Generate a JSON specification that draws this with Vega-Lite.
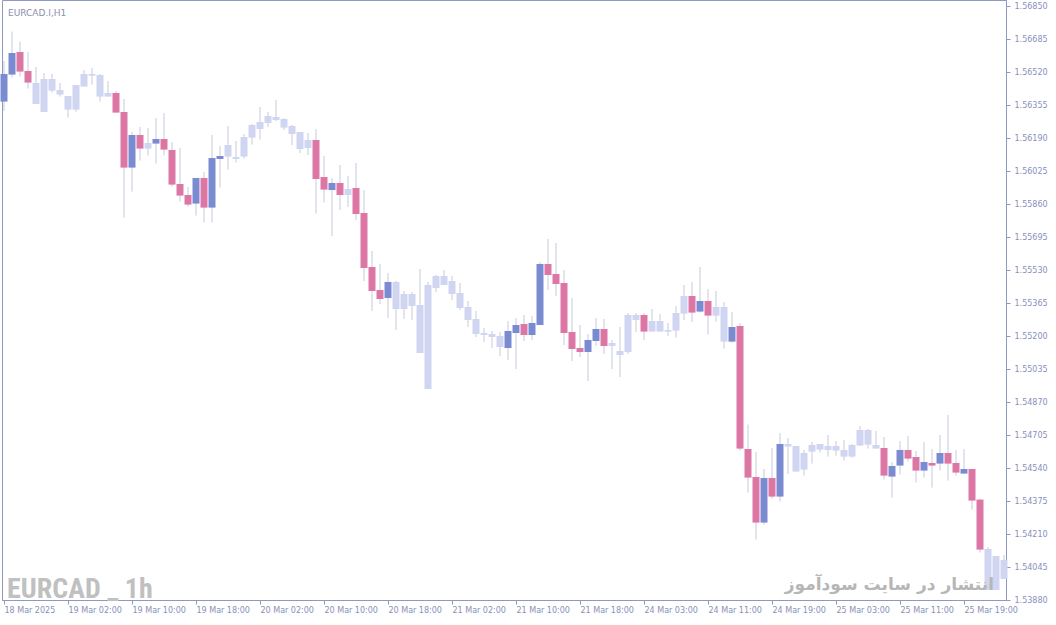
{
  "$schema": "https://vega.github.io/schema/vega-lite/v6.json",
  "width": 1004,
  "height": 600,
  "autosize": {"type": "none"},
  "padding": {"left": 2, "top": 0, "right": 50, "bottom": 25},
  "background": "white",
  "config": {
    "view": {"stroke": "#8e99c2", "strokeWidth": 1},
    "axis": {
      "grid": false,
      "labelFont": "DejaVu Sans",
      "labelFontSize": 8,
      "labelColor": "#8890bb",
      "domainColor": "#8e99c2",
      "tickColor": "#8e99c2",
      "labelOverlap": false,
      "labelFlush": false,
      "labelBound": false,
      "title": null
    },
    "axisY": {"labelOverlap": false}
  },
  "data": {"values": [
    {"t":"18 Mar 18:00","o":1.56372,"h":1.56575,"l":1.56325,"c":1.5651,"s":"up"},
    {"t":"18 Mar 19:00","o":1.56507,"h":1.56722,"l":1.56492,"c":1.56615,"s":"up"},
    {"t":"18 Mar 20:00","o":1.5662,"h":1.56672,"l":1.56497,"c":1.56522,"s":"down"},
    {"t":"18 Mar 21:00","o":1.56525,"h":1.5662,"l":1.56437,"c":1.56467,"s":"down"},
    {"t":"18 Mar 22:00","o":1.56465,"h":1.56545,"l":1.5636,"c":1.5636,"s":"flat"},
    {"t":"18 Mar 23:00","o":1.5632,"h":1.56515,"l":1.5632,"c":1.56485,"s":"flat"},
    {"t":"19 Mar 00:00","o":1.56485,"h":1.5651,"l":1.56417,"c":1.56427,"s":"flat"},
    {"t":"19 Mar 01:00","o":1.5643,"h":1.56465,"l":1.56397,"c":1.56407,"s":"flat"},
    {"t":"19 Mar 02:00","o":1.564,"h":1.564,"l":1.56292,"c":1.56332,"s":"flat"},
    {"t":"19 Mar 03:00","o":1.56332,"h":1.56455,"l":1.56322,"c":1.56455,"s":"flat"},
    {"t":"19 Mar 04:00","o":1.56447,"h":1.5653,"l":1.56447,"c":1.5651,"s":"flat"},
    {"t":"19 Mar 05:00","o":1.5651,"h":1.5654,"l":1.56457,"c":1.56502,"s":"flat"},
    {"t":"19 Mar 06:00","o":1.56505,"h":1.5651,"l":1.56372,"c":1.56397,"s":"flat"},
    {"t":"19 Mar 07:00","o":1.56397,"h":1.56475,"l":1.56397,"c":1.56415,"s":"flat"},
    {"t":"19 Mar 08:00","o":1.56415,"h":1.56425,"l":1.56317,"c":1.56317,"s":"down"},
    {"t":"19 Mar 09:00","o":1.5632,"h":1.56385,"l":1.55792,"c":1.56042,"s":"down"},
    {"t":"19 Mar 10:00","o":1.56042,"h":1.5622,"l":1.55922,"c":1.56205,"s":"up"},
    {"t":"19 Mar 11:00","o":1.56205,"h":1.56245,"l":1.56077,"c":1.56137,"s":"down"},
    {"t":"19 Mar 12:00","o":1.56137,"h":1.5624,"l":1.56102,"c":1.56165,"s":"flat"},
    {"t":"19 Mar 13:00","o":1.56162,"h":1.5629,"l":1.56062,"c":1.56185,"s":"up"},
    {"t":"19 Mar 14:00","o":1.56185,"h":1.56315,"l":1.56102,"c":1.56132,"s":"down"},
    {"t":"19 Mar 15:00","o":1.5613,"h":1.5617,"l":1.55947,"c":1.55957,"s":"down"},
    {"t":"19 Mar 16:00","o":1.5596,"h":1.5614,"l":1.55872,"c":1.55902,"s":"down"},
    {"t":"19 Mar 17:00","o":1.55905,"h":1.55945,"l":1.55847,"c":1.55857,"s":"down"},
    {"t":"19 Mar 18:00","o":1.55862,"h":1.5599,"l":1.55802,"c":1.5599,"s":"up"},
    {"t":"19 Mar 19:00","o":1.5599,"h":1.5602,"l":1.55767,"c":1.55842,"s":"down"},
    {"t":"19 Mar 20:00","o":1.55842,"h":1.56205,"l":1.55767,"c":1.5609,"s":"up"},
    {"t":"19 Mar 21:00","o":1.56085,"h":1.5615,"l":1.55942,"c":1.561,"s":"up"},
    {"t":"19 Mar 22:00","o":1.56097,"h":1.5625,"l":1.56032,"c":1.56155,"s":"flat"},
    {"t":"19 Mar 23:00","o":1.56095,"h":1.56175,"l":1.56067,"c":1.56085,"s":"flat"},
    {"t":"20 Mar 00:00","o":1.56097,"h":1.5621,"l":1.56087,"c":1.56195,"s":"flat"},
    {"t":"20 Mar 01:00","o":1.56192,"h":1.5626,"l":1.56157,"c":1.56255,"s":"flat"},
    {"t":"20 Mar 02:00","o":1.56235,"h":1.56345,"l":1.56182,"c":1.5627,"s":"flat"},
    {"t":"20 Mar 03:00","o":1.56265,"h":1.5632,"l":1.56245,"c":1.563,"s":"flat"},
    {"t":"20 Mar 04:00","o":1.56295,"h":1.5638,"l":1.56275,"c":1.5628,"s":"flat"},
    {"t":"20 Mar 05:00","o":1.56285,"h":1.5629,"l":1.5623,"c":1.56242,"s":"flat"},
    {"t":"20 Mar 06:00","o":1.5625,"h":1.56255,"l":1.56155,"c":1.5621,"s":"flat"},
    {"t":"20 Mar 07:00","o":1.5622,"h":1.5622,"l":1.56115,"c":1.56135,"s":"flat"},
    {"t":"20 Mar 08:00","o":1.5614,"h":1.56215,"l":1.56105,"c":1.5618,"s":"flat"},
    {"t":"20 Mar 09:00","o":1.5618,"h":1.56235,"l":1.55812,"c":1.55985,"s":"down"},
    {"t":"20 Mar 10:00","o":1.55995,"h":1.561,"l":1.55867,"c":1.55932,"s":"down"},
    {"t":"20 Mar 11:00","o":1.5593,"h":1.5599,"l":1.557,"c":1.55965,"s":"up"},
    {"t":"20 Mar 12:00","o":1.55965,"h":1.56055,"l":1.5583,"c":1.55905,"s":"down"},
    {"t":"20 Mar 13:00","o":1.55905,"h":1.56,"l":1.55845,"c":1.55935,"s":"flat"},
    {"t":"20 Mar 14:00","o":1.5594,"h":1.56065,"l":1.5578,"c":1.5581,"s":"down"},
    {"t":"20 Mar 15:00","o":1.55815,"h":1.5593,"l":1.55475,"c":1.5554,"s":"down"},
    {"t":"20 Mar 16:00","o":1.55545,"h":1.55625,"l":1.55325,"c":1.55425,"s":"down"},
    {"t":"20 Mar 17:00","o":1.5543,"h":1.5556,"l":1.5536,"c":1.55385,"s":"down"},
    {"t":"20 Mar 18:00","o":1.5539,"h":1.55515,"l":1.5529,"c":1.5547,"s":"up"},
    {"t":"20 Mar 19:00","o":1.5547,"h":1.55475,"l":1.5523,"c":1.55335,"s":"flat"},
    {"t":"20 Mar 20:00","o":1.55335,"h":1.55425,"l":1.55285,"c":1.5541,"s":"flat"},
    {"t":"20 Mar 21:00","o":1.5541,"h":1.5542,"l":1.5528,"c":1.5535,"s":"flat"},
    {"t":"20 Mar 22:00","o":1.55355,"h":1.55535,"l":1.55115,"c":1.55115,"s":"flat"},
    {"t":"20 Mar 23:00","o":1.54935,"h":1.5547,"l":1.54935,"c":1.55455,"s":"flat"},
    {"t":"21 Mar 00:00","o":1.5544,"h":1.55505,"l":1.5542,"c":1.555,"s":"flat"},
    {"t":"21 Mar 01:00","o":1.555,"h":1.5553,"l":1.55455,"c":1.55455,"s":"flat"},
    {"t":"21 Mar 02:00","o":1.55475,"h":1.555,"l":1.5538,"c":1.5541,"s":"flat"},
    {"t":"21 Mar 03:00","o":1.55415,"h":1.55465,"l":1.5533,"c":1.5534,"s":"flat"},
    {"t":"21 Mar 04:00","o":1.55345,"h":1.55375,"l":1.55245,"c":1.5528,"s":"flat"},
    {"t":"21 Mar 05:00","o":1.55285,"h":1.55325,"l":1.55195,"c":1.5521,"s":"flat"},
    {"t":"21 Mar 06:00","o":1.55215,"h":1.5524,"l":1.5517,"c":1.55205,"s":"flat"},
    {"t":"21 Mar 07:00","o":1.5521,"h":1.55225,"l":1.5514,"c":1.55195,"s":"flat"},
    {"t":"21 Mar 08:00","o":1.552,"h":1.5522,"l":1.551,"c":1.55145,"s":"flat"},
    {"t":"21 Mar 09:00","o":1.5514,"h":1.55275,"l":1.5508,"c":1.55225,"s":"up"},
    {"t":"21 Mar 10:00","o":1.55215,"h":1.5529,"l":1.55035,"c":1.55255,"s":"up"},
    {"t":"21 Mar 11:00","o":1.5526,"h":1.55305,"l":1.55175,"c":1.55205,"s":"down"},
    {"t":"21 Mar 12:00","o":1.55205,"h":1.553,"l":1.5518,"c":1.55265,"s":"up"},
    {"t":"21 Mar 13:00","o":1.55255,"h":1.5557,"l":1.55255,"c":1.5556,"s":"up"},
    {"t":"21 Mar 14:00","o":1.5556,"h":1.55685,"l":1.5543,"c":1.55505,"s":"down"},
    {"t":"21 Mar 15:00","o":1.5551,"h":1.55665,"l":1.554,"c":1.5546,"s":"down"},
    {"t":"21 Mar 16:00","o":1.55465,"h":1.5553,"l":1.55155,"c":1.55215,"s":"down"},
    {"t":"21 Mar 17:00","o":1.5522,"h":1.5539,"l":1.55075,"c":1.55135,"s":"down"},
    {"t":"21 Mar 18:00","o":1.5514,"h":1.55255,"l":1.55095,"c":1.5512,"s":"down"},
    {"t":"21 Mar 19:00","o":1.5512,"h":1.5521,"l":1.54975,"c":1.5518,"s":"up"},
    {"t":"21 Mar 20:00","o":1.55175,"h":1.5529,"l":1.5515,"c":1.55235,"s":"up"},
    {"t":"21 Mar 21:00","o":1.55235,"h":1.55285,"l":1.5511,"c":1.5515,"s":"down"},
    {"t":"21 Mar 22:00","o":1.5515,"h":1.5518,"l":1.55035,"c":1.55165,"s":"flat"},
    {"t":"24 Mar 00:00","o":1.55125,"h":1.55245,"l":1.54995,"c":1.55105,"s":"flat"},
    {"t":"24 Mar 01:00","o":1.5512,"h":1.55315,"l":1.5511,"c":1.55305,"s":"flat"},
    {"t":"24 Mar 02:00","o":1.55305,"h":1.55315,"l":1.5522,"c":1.5528,"s":"flat"},
    {"t":"24 Mar 03:00","o":1.55305,"h":1.55315,"l":1.5518,"c":1.55222,"s":"down"},
    {"t":"24 Mar 04:00","o":1.55222,"h":1.55335,"l":1.55222,"c":1.55275,"s":"flat"},
    {"t":"24 Mar 05:00","o":1.55275,"h":1.5531,"l":1.55222,"c":1.55222,"s":"flat"},
    {"t":"24 Mar 06:00","o":1.55222,"h":1.55265,"l":1.552,"c":1.5523,"s":"flat"},
    {"t":"24 Mar 07:00","o":1.55227,"h":1.5535,"l":1.55192,"c":1.55315,"s":"flat"},
    {"t":"24 Mar 08:00","o":1.55312,"h":1.55455,"l":1.5528,"c":1.554,"s":"flat"},
    {"t":"24 Mar 09:00","o":1.554,"h":1.5547,"l":1.5527,"c":1.55317,"s":"down"},
    {"t":"24 Mar 10:00","o":1.55322,"h":1.55545,"l":1.55317,"c":1.55375,"s":"up"},
    {"t":"24 Mar 11:00","o":1.55375,"h":1.55435,"l":1.55207,"c":1.55302,"s":"down"},
    {"t":"24 Mar 12:00","o":1.55302,"h":1.55425,"l":1.55272,"c":1.55345,"s":"flat"},
    {"t":"24 Mar 13:00","o":1.55345,"h":1.5537,"l":1.55137,"c":1.55172,"s":"flat"},
    {"t":"24 Mar 14:00","o":1.55172,"h":1.5532,"l":1.55167,"c":1.55245,"s":"up"},
    {"t":"24 Mar 15:00","o":1.5525,"h":1.55265,"l":1.54627,"c":1.54637,"s":"down"},
    {"t":"24 Mar 16:00","o":1.54635,"h":1.54757,"l":1.54417,"c":1.54492,"s":"down"},
    {"t":"24 Mar 17:00","o":1.54495,"h":1.5462,"l":1.54182,"c":1.54267,"s":"down"},
    {"t":"24 Mar 18:00","o":1.54267,"h":1.54535,"l":1.54257,"c":1.5449,"s":"up"},
    {"t":"24 Mar 19:00","o":1.5449,"h":1.5464,"l":1.54387,"c":1.54397,"s":"down"},
    {"t":"24 Mar 20:00","o":1.54397,"h":1.54715,"l":1.54372,"c":1.5466,"s":"up"},
    {"t":"24 Mar 21:00","o":1.5466,"h":1.5469,"l":1.5451,"c":1.54647,"s":"flat"},
    {"t":"24 Mar 22:00","o":1.5465,"h":1.5465,"l":1.54522,"c":1.54522,"s":"flat"},
    {"t":"24 Mar 23:00","o":1.54532,"h":1.5463,"l":1.54502,"c":1.54615,"s":"flat"},
    {"t":"25 Mar 00:00","o":1.54622,"h":1.5467,"l":1.54562,"c":1.54655,"s":"flat"},
    {"t":"25 Mar 01:00","o":1.54632,"h":1.5466,"l":1.54617,"c":1.5466,"s":"flat"},
    {"t":"25 Mar 02:00","o":1.5465,"h":1.54705,"l":1.54597,"c":1.5463,"s":"flat"},
    {"t":"25 Mar 03:00","o":1.54627,"h":1.54675,"l":1.54602,"c":1.5465,"s":"flat"},
    {"t":"25 Mar 04:00","o":1.5463,"h":1.5468,"l":1.54577,"c":1.54597,"s":"flat"},
    {"t":"25 Mar 05:00","o":1.54597,"h":1.5466,"l":1.54592,"c":1.54655,"s":"flat"},
    {"t":"25 Mar 06:00","o":1.54652,"h":1.5475,"l":1.54652,"c":1.5473,"s":"flat"},
    {"t":"25 Mar 07:00","o":1.5473,"h":1.54735,"l":1.54637,"c":1.54657,"s":"flat"},
    {"t":"25 Mar 08:00","o":1.54655,"h":1.54725,"l":1.54637,"c":1.54637,"s":"flat"},
    {"t":"25 Mar 09:00","o":1.5464,"h":1.54695,"l":1.54482,"c":1.54502,"s":"down"},
    {"t":"25 Mar 10:00","o":1.54497,"h":1.5457,"l":1.54392,"c":1.5455,"s":"up"},
    {"t":"25 Mar 11:00","o":1.54552,"h":1.54675,"l":1.54507,"c":1.5463,"s":"up"},
    {"t":"25 Mar 12:00","o":1.5463,"h":1.547,"l":1.54572,"c":1.54587,"s":"down"},
    {"t":"25 Mar 13:00","o":1.54595,"h":1.54625,"l":1.54467,"c":1.54527,"s":"down"},
    {"t":"25 Mar 14:00","o":1.54527,"h":1.5467,"l":1.54492,"c":1.5457,"s":"up"},
    {"t":"25 Mar 15:00","o":1.54565,"h":1.54635,"l":1.54442,"c":1.54552,"s":"down"},
    {"t":"25 Mar 16:00","o":1.54562,"h":1.54705,"l":1.54527,"c":1.54615,"s":"up"},
    {"t":"25 Mar 17:00","o":1.54615,"h":1.54805,"l":1.54477,"c":1.54562,"s":"down"},
    {"t":"25 Mar 18:00","o":1.54565,"h":1.5463,"l":1.54502,"c":1.54517,"s":"down"},
    {"t":"25 Mar 19:00","o":1.54512,"h":1.54635,"l":1.54512,"c":1.54535,"s":"up"},
    {"t":"25 Mar 20:00","o":1.54535,"h":1.54535,"l":1.54332,"c":1.54377,"s":"down"},
    {"t":"25 Mar 21:00","o":1.54382,"h":1.54387,"l":1.54117,"c":1.54132,"s":"down"},
    {"t":"25 Mar 22:00","o":1.54135,"h":1.54145,"l":1.5393,"c":1.5393,"s":"flat"},
    {"t":"25 Mar 23:00","o":1.5393,"h":1.541,"l":1.5393,"c":1.541,"s":"flat"},
    {"t":"26 Mar 00:00","o":1.5408,"h":1.54105,"l":1.53985,"c":1.53985,"s":"flat"}
  ]},
  "encoding": {
    "x": {
      "field": "t",
      "type": "ordinal",
      "sort": null,
      "scale": {"type": "point", "padding": 0.25},
      "axis": {
        "orient": "bottom",
        "values": ["18 Mar 18:00","19 Mar 02:00","19 Mar 10:00","19 Mar 18:00","20 Mar 02:00","20 Mar 10:00","20 Mar 18:00","21 Mar 02:00","21 Mar 10:00","21 Mar 18:00","24 Mar 03:00","24 Mar 11:00","24 Mar 19:00","25 Mar 03:00","25 Mar 11:00","25 Mar 19:00"],
        "labelExpr": "datum.value == '18 Mar 18:00' ? '18 Mar 2025' : datum.value",
        "labelAngle": 0,
        "labelAlign": "left",
        "labelBaseline": "top",
        "labelPadding": 2,
        "labelOverlap": false,
        "tickSize": 4
      }
    }
  },
  "layer": [
    {
      "mark": {"type": "rule", "color": "#c6c9de", "strokeWidth": 1},
      "encoding": {
        "y": {
          "field": "l",
          "type": "quantitative",
          "scale": {"domain": [1.5388, 1.5688], "zero": false, "nice": false},
          "axis": {"orient": "right", "values": [1.5388, 1.54045, 1.5421, 1.54375, 1.5454, 1.54705, 1.5487, 1.55035, 1.552, 1.55365, 1.5553, 1.55695, 1.5586, 1.56025, 1.5619, 1.56355, 1.5652, 1.56685, 1.5685], "format": ".5f", "tickSize": 4, "labelPadding": 4, "labelOverlap": false, "labelBaseline": "middle"}
        },
        "y2": {"field": "h"}
      }
    },
    {
      "mark": {"type": "bar", "width": 7},
      "encoding": {
        "y": {
          "field": "o",
          "type": "quantitative",
          "axis": {"orient": "right", "values": [1.5388, 1.54045, 1.5421, 1.54375, 1.5454, 1.54705, 1.5487, 1.55035, 1.552, 1.55365, 1.5553, 1.55695, 1.5586, 1.56025, 1.5619, 1.56355, 1.5652, 1.56685, 1.5685], "format": ".5f", "tickSize": 4, "labelPadding": 4, "labelOverlap": false, "labelBaseline": "middle"}
        },
        "y2": {"field": "c"},
        "color": {
          "field": "s",
          "type": "nominal",
          "scale": {"domain": ["up", "down", "flat"], "range": ["#7b8bd1", "#dc76a4", "#d0d5f2"]},
          "legend": null
        }
      }
    },
    {
      "data": {"values": [{"label": "EURCAD.I,H1"}]},
      "mark": {"type": "text", "align": "left", "baseline": "alphabetic", "dx": 4, "font": "DejaVu Sans", "fontSize": 9, "color": "#8a8fae"},
      "encoding": {
        "x": {"datum": "18 Mar 18:00"},
        "y": {
          "datum": 1.56798,
          "type": "quantitative",
          "axis": {"orient": "right", "values": [1.5388, 1.54045, 1.5421, 1.54375, 1.5454, 1.54705, 1.5487, 1.55035, 1.552, 1.55365, 1.5553, 1.55695, 1.5586, 1.56025, 1.5619, 1.56355, 1.5652, 1.56685, 1.5685], "format": ".5f", "tickSize": 4, "labelPadding": 4, "labelOverlap": false, "labelBaseline": "middle"}
        },
        "text": {"field": "label"}
      }
    },
    {
      "data": {"values": [{"label": "EURCAD _ 1h"}]},
      "mark": {"type": "text", "align": "left", "baseline": "alphabetic", "dx": 3, "font": "Roboto Condensed, Roboto", "fontWeight": "bold", "fontSize": 28, "color": "#c0c0c0"},
      "encoding": {
        "x": {"datum": "18 Mar 18:00"},
        "y": {
          "datum": 1.5389,
          "type": "quantitative",
          "axis": {"orient": "right", "values": [1.5388, 1.54045, 1.5421, 1.54375, 1.5454, 1.54705, 1.5487, 1.55035, 1.552, 1.55365, 1.5553, 1.55695, 1.5586, 1.56025, 1.5619, 1.56355, 1.5652, 1.56685, 1.5685], "format": ".5f", "tickSize": 4, "labelPadding": 4, "labelOverlap": false, "labelBaseline": "middle"}
        },
        "text": {"field": "label"}
      }
    },
    {
      "data": {"values": [{"label": "انتشار در سایت سودآموز"}]},
      "mark": {"type": "text", "align": "right", "baseline": "alphabetic", "dx": -2, "font": "DejaVu Sans", "fontWeight": "bold", "fontSize": 17, "color": "#b6b6b6"},
      "encoding": {
        "x": {"datum": "25 Mar 23:00"},
        "y": {
          "datum": 1.5393,
          "type": "quantitative",
          "axis": {"orient": "right", "values": [1.5388, 1.54045, 1.5421, 1.54375, 1.5454, 1.54705, 1.5487, 1.55035, 1.552, 1.55365, 1.5553, 1.55695, 1.5586, 1.56025, 1.5619, 1.56355, 1.5652, 1.56685, 1.5685], "format": ".5f", "tickSize": 4, "labelPadding": 4, "labelOverlap": false, "labelBaseline": "middle"}
        },
        "text": {"field": "label"}
      }
    }
  ]
}
